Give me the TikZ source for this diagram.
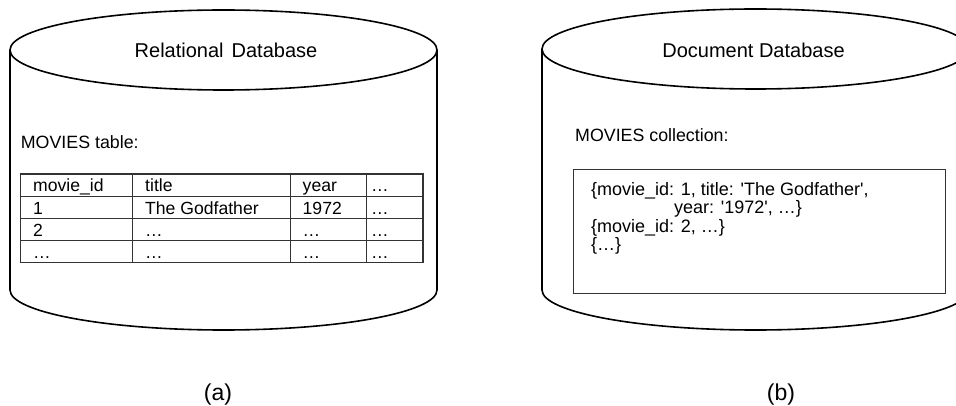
\documentclass[tikz,border=0pt]{standalone}
\usepackage{fontspec}
\setmainfont{Liberation Sans}
\begin{document}
\begin{tikzpicture}[x=1pt,y=-1pt,
  cyl/.style={line width=1.6pt, black},
  tbl/.style={line width=1.1pt, black!80},
  hdr/.style={font=\fontsize{20}{24}\selectfont, anchor=base, inner sep=0pt},
  lbl/.style={font=\fontsize{17.8}{21}\selectfont, anchor=base west, inner sep=0pt},
  cell/.style={font=\fontsize{17.6}{21}\selectfont, anchor=base west, inner sep=0pt},
  doc/.style={font=\fontsize{18}{21}\selectfont, anchor=base west, inner sep=0pt},
  captxt/.style={font=\fontsize{23}{27}\selectfont, anchor=base, inner sep=0pt}]
\useasboundingbox (0,0) rectangle (956,406);
\clip (0,0) rectangle (956,406);
% ---- left cylinder
\draw[cyl] (223.5,50) ellipse[x radius=213.5, y radius=40];
\draw[cyl] (10,50) -- (10,290) arc[start angle=180, end angle=0, x radius=213.5, y radius=40] -- (437,50);
\node[hdr] (relhdr) at (226,58) {Relational\hspace{8pt}Database};
\node[lbl] (movtab) at (20.7,148.3) {MOVIES table:};
% table grid
\draw[tbl] (20.7,174) rectangle (423,262.3);
\foreach \yy in {196.1,218.2,240.2} \draw[tbl] (20.7,\yy) -- (423,\yy);
\foreach \xx in {132.3,290.3,366.7} \draw[tbl] (\xx,174) -- (\xx,262.3);
% table cells
\node[cell] (c11) at (33,192) {movie\_id};
\node[cell] (c12) at (145,192) {title};
\node[cell] (c13) at (302.5,192) {year};
\node[cell] (c14) at (371,192) {…};
\node[cell] (c21) at (33,214.2) {1};
\node[cell] (c22) at (145,214.2) {The Godfather};
\node[cell] (c23) at (302.5,214.2) {1972};
\node[cell] (c24) at (371,214.2) {…};
\node[cell] (c31) at (33,236.2) {2};
\node[cell] (c32) at (145,236.2) {…};
\node[cell] (c33) at (302.5,236.2) {…};
\node[cell] (c34) at (371,236.2) {…};
\node[cell] (c41) at (33,258.3) {…};
\node[cell] (c42) at (145,258.3) {…};
\node[cell] (c43) at (302.5,258.3) {…};
\node[cell] (c44) at (371,258.3) {…};
% ---- right cylinder
\draw[cyl] (755.5,49) ellipse[x radius=213.5, y radius=40];
\draw[cyl] (542,49) -- (542,290) arc[start angle=180, end angle=0, x radius=213.5, y radius=40] -- (969,49);
\node[hdr] (dochdr) at (753.5,58) {Document Database};
\node[lbl] (movcol) at (575,141.7) {MOVIES collection:};
\draw[tbl, fill=white] (573.3,169.3) rectangle (945.7,293.3);
\node[doc] (d1) at (591,195.7) {\{movie\_id: 1, title: \textquotesingle The Godfather\textquotesingle ,};
\node[doc] (d2) at (674,213.9) {year: \textquotesingle 1972\textquotesingle , …\}};
\node[doc] (d3) at (591,232.1) {\{movie\_id: 2, …\}};
\node[doc] (d4) at (591,250.3) {\{…\}};
% ---- captions
\node[captxt] (capa) at (218,400) {(a)};
\node[captxt] (capb) at (781,400) {(b)};
\end{tikzpicture}
\end{document}
